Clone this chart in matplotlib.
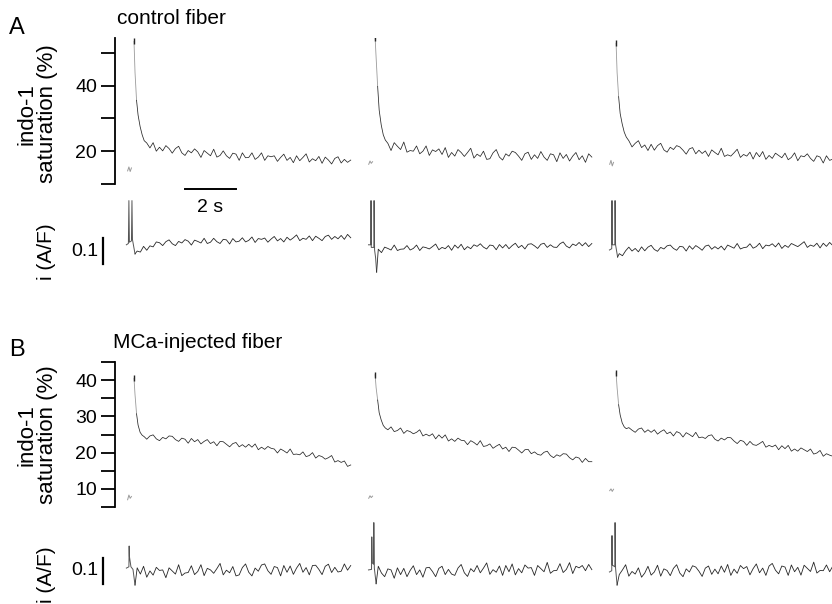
import numpy as np
import matplotlib
matplotlib.use("Agg")
import matplotlib.pyplot as plt
from matplotlib.transforms import blended_transform_factory

plt.rcParams['font.family'] = ['Liberation Sans', 'DejaVu Sans']

# ---------------- data ----------------
# sample times (s) relative to the stimulus
T_PRE = [-0.25, -0.2, -0.15, -0.1]
T_DECAY = [0.0, 0.04, 0.1, 0.16, 0.24, 0.32, 0.4]
T_REG = np.arange(0.5, 8.5001, 0.125)          # fluorescence plateau samples
T_I = np.arange(0.125, 8.5001, 0.125)          # current samples

# ---- panel A: control fiber, indo-1 saturation (%)
F_A1_pre = [14.0, 15.2, 13.8, 14.9]
F_A1_decay = [53.5, 44.0, 35.5, 31.0, 27.5, 25.0, 23.2]
F_A1_reg = [22.5, 21.0, 22.6, 20.0, 21.2, 20.1, 21.7, 20.8,
            19.4, 20.8, 21.5, 19.5, 18.7, 20.2, 19.5, 20.7,
            19.8, 18.1, 20.2, 19.4, 18.6, 20.6, 18.2, 18.7,
            20.1, 18.6, 17.8, 19.4, 19.1, 17.2, 19.5, 18.0,
            18.1, 19.5, 17.5, 18.2, 19.5, 17.2, 18.6, 18.3,
            18.6, 16.9, 18.1, 19.1, 17.2, 18.1, 16.5, 18.6,
            17.1, 18.1, 19.2, 16.7, 17.7, 17.1, 18.4, 16.3,
            18.2, 17.3, 16.1, 17.8, 18.3, 16.4, 17.5, 16.6,
            17.3]

F_A2_pre = [16.0, 17.0, 16.3, 16.8]
F_A2_decay = [54.6, 48.5, 39.7, 32.5, 28.0, 25.0, 23.4]
F_A2_reg = [22.4, 20.2, 22.6, 21.5, 20.5, 22.8, 19.7, 20.2,
            20.0, 21.6, 19.2, 20.0, 21.6, 18.7, 20.4, 19.9,
            20.7, 19.0, 21.1, 18.1, 19.6, 18.5, 20.5, 19.6,
            18.4, 19.6, 20.9, 17.9, 19.1, 18.4, 20.0, 17.5,
            17.7, 19.5, 20.5, 18.2, 17.3, 19.2, 18.5, 20.0,
            19.6, 18.5, 17.2, 19.2, 19.7, 17.5, 18.9, 17.8,
            19.9, 18.2, 17.2, 19.2, 18.9, 16.8, 19.5, 17.8,
            19.0, 17.0, 18.5, 19.6, 17.4, 18.6, 16.6, 19.2,
            18.2]

F_A3_pre = [16.0, 17.2, 15.5, 16.6]
F_A3_decay = [52.9, 44.0, 36.6, 31.5, 28.3, 25.8, 24.3]
F_A3_reg = [23.2, 21.3, 22.4, 23.2, 21.1, 21.9, 20.2, 22.1,
            20.3, 21.7, 22.4, 20.4, 19.7, 21.2, 20.5, 21.7,
            21.3, 20.3, 19.1, 20.7, 21.1, 19.2, 20.3, 19.3,
            20.1, 18.4, 20.4, 19.6, 18.9, 20.9, 18.4, 18.9,
            18.5, 19.5, 20.6, 18.1, 19.0, 18.5, 19.7, 17.6,
            19.6, 18.3, 19.9, 17.5, 18.7, 17.8, 19.4, 18.7,
            18.0, 19.4, 17.4, 18.1, 19.5, 17.1, 18.6, 18.3,
            19.2, 17.8, 16.9, 18.6, 18.2, 16.4, 18.6, 17.2,
            17.6]

# ---- panel A: currents i (A/F), relative to the post-pulse baseline
I_A1_on_t = [-0.3, -0.22, -0.2, -0.18, -0.1, -0.08, -0.06, 0.04]
I_A1_on_v = [0.02, 0.025, 0.19, 0.03, 0.035, 0.19, 0.04, -0.015]
I_A1 = [-0.004, -0.008, 0.014, -0.001, 0.016, 0.012, 0.031, 0.028,
        0.017, 0.032, 0.039, 0.024, 0.017, 0.033, 0.027, 0.040,
        0.034, 0.019, 0.038, 0.033, 0.027, 0.045, 0.025, 0.030,
        0.045, 0.032, 0.025, 0.041, 0.039, 0.023, 0.044, 0.031,
        0.034, 0.047, 0.031, 0.037, 0.050, 0.029, 0.044, 0.041,
        0.046, 0.030, 0.042, 0.052, 0.035, 0.044, 0.031, 0.049,
        0.038, 0.047, 0.058, 0.036, 0.045, 0.041, 0.054, 0.036,
        0.053, 0.045, 0.036, 0.052, 0.057, 0.041, 0.052, 0.043,
        0.056, 0.041, 0.060, 0.047]

I_A2_on_t = [-0.26, -0.17, -0.16, -0.15, -0.05, -0.04, -0.02, 0.02, 0.06]
I_A2_on_v = [0.02, 0.02, 0.19, 0.01, 0.01, 0.19, 0.0, -0.03, -0.085]
I_A2 = [0.003, -0.010, 0.011, 0.006, 0.000, 0.019, -0.002, 0.003,
        0.004, 0.017, 0.000, 0.006, 0.019, -0.002, 0.012, 0.009,
        0.004, 0.013, 0.023, 0.001, 0.010, 0.005, 0.017, -0.001,
        0.019, 0.007, 0.022, 0.001, 0.013, 0.005, 0.020, 0.014,
        0.024, 0.011, 0.004, 0.019, 0.017, 0.001, 0.021, 0.008,
        0.021, 0.005, 0.017, 0.026, 0.009, 0.018, 0.004, 0.022,
        0.024, 0.016, 0.006, 0.022, 0.026, 0.010, 0.020, 0.011,
        0.010, 0.024, 0.031, 0.015, 0.008, 0.023, 0.017, 0.029,
        0.016, 0.028, 0.013, 0.025]

I_A3_on_t = [-0.26, -0.17, -0.16, -0.15, -0.05, -0.04, -0.02, 0.06]
I_A3_on_v = [0.0, 0.005, 0.19, 0.02, 0.02, 0.19, 0.02, -0.027]
I_A3 = [-0.014, -0.022, -0.003, 0.011, -0.004, 0.006, -0.007, 0.012,
        -0.003, 0.011, 0.018, 0.002, -0.005, 0.010, 0.004, 0.016,
        0.019, 0.006, -0.001, 0.014, 0.012, -0.004, 0.016, 0.003,
        0.017, 0.009, -0.001, 0.015, 0.019, 0.003, 0.013, 0.004,
        0.015, 0.000, 0.019, 0.013, 0.007, 0.025, 0.004, 0.009,
        0.011, 0.024, 0.007, 0.013, 0.026, 0.005, 0.019, 0.016,
        0.024, 0.012, 0.027, 0.006, 0.018, 0.010, 0.025, 0.019,
        0.013, 0.022, 0.032, 0.010, 0.019, 0.014, 0.026, 0.008,
        0.026, 0.014, 0.029, 0.017]

# ---- panel B: MCa-injected fiber, indo-1 saturation (%)
F_B1_pre = [7.0, 8.3, 7.4, 7.9]
F_B1_decay = [40.5, 36.0, 30.7, 27.6, 25.6, 24.8, 24.4]
F_B1_reg = [23.7, 24.6, 24.9, 23.8, 23.3, 24.2, 23.8, 24.6,
            24.5, 23.6, 23.1, 24.0, 23.7, 22.6, 23.9, 23.0,
            23.6, 22.4, 23.1, 23.6, 22.5, 23.0, 21.9, 23.1,
            23.0, 22.3, 21.6, 22.5, 22.8, 21.6, 22.2, 21.5,
            22.3, 21.5, 22.4, 20.8, 21.5, 20.9, 21.7, 21.2,
            21.0, 19.9, 21.0, 20.5, 19.9, 21.0, 19.5, 19.6,
            19.4, 20.2, 18.9, 19.2, 20.0, 18.5, 19.2, 18.9,
            18.2, 18.6, 19.2, 17.4, 17.8, 17.3, 17.7, 16.2,
            16.6]

F_B2_pre = [7.4, 8.1, 7.6, 8.0]
F_B2_decay = [41.5, 37.9, 34.5, 31.0, 29.0, 27.5, 26.8]
F_B2_reg = [26.3, 27.1, 25.8, 26.1, 26.8, 25.3, 26.1, 25.8,
            25.2, 25.6, 26.3, 24.6, 25.1, 24.6, 25.2, 23.8,
            24.9, 24.0, 24.9, 23.2, 23.8, 23.1, 24.0, 23.4,
            23.3, 22.2, 23.3, 22.8, 22.1, 23.3, 21.7, 21.9,
            22.4, 21.2, 21.8, 22.3, 21.0, 21.5, 20.3, 21.5,
            21.4, 20.7, 19.9, 20.8, 20.9, 19.7, 20.2, 19.5,
            19.3, 20.1, 20.4, 19.2, 18.6, 19.4, 19.0, 19.7,
            19.6, 18.6, 18.0, 18.8, 18.5, 17.3, 18.4, 17.5,
            17.5]

F_B3_pre = [9.5, 10.0, 9.3, 9.9]
F_B3_decay = [42.0, 37.9, 33.2, 30.4, 28.2, 27.1, 26.6]
F_B3_reg = [26.9, 26.2, 25.6, 26.5, 26.8, 25.6, 26.3, 25.6,
            26.3, 25.1, 25.8, 26.3, 25.2, 25.7, 24.6, 25.8,
            25.4, 24.3, 25.5, 25.0, 24.4, 25.6, 24.1, 24.3,
            23.9, 24.7, 24.9, 23.7, 23.2, 24.0, 23.5, 24.2,
            24.1, 23.2, 22.5, 23.4, 23.1, 22.0, 23.1, 22.2,
            22.0, 22.5, 23.1, 21.5, 22.0, 21.6, 22.1, 20.8,
            21.9, 21.1, 22.0, 20.4, 21.0, 20.4, 21.3, 20.8,
            20.3, 21.0, 19.6, 19.9, 20.6, 19.0, 19.7, 19.3,
            19.0]

# ---- panel B: currents i (A/F)
I_B1_on_t = [-0.3, -0.2, -0.19, -0.18, -0.12, -0.04, 0.04]
I_B1_on_v = [0.015, 0.02, 0.10, 0.06, 0.02, 0.01, -0.05]
I_B1 = [0.016, -0.008, 0.022, -0.020, 0.004, -0.012, 0.018, 0.006,
        0.008, -0.022, 0.016, 0.004, -0.008, 0.028, -0.014, -0.004,
        -0.002, 0.024, -0.010, 0.002, 0.028, -0.014, 0.014, 0.008,
        -0.005, 0.013, 0.033, -0.011, 0.007, -0.003, 0.021, -0.015,
        -0.011, 0.017, 0.031, -0.001, -0.015, 0.015, 0.003, 0.027,
        0.031, 0.005, -0.009, 0.021, 0.017, -0.015, 0.025, -0.001,
        0.023, -0.009, 0.015, 0.033, -0.001, 0.017, -0.011, 0.025,
        0.026, 0.010, -0.010, 0.022, 0.030, -0.002, 0.018, 0.000,
        0.003, 0.031, 0.007, 0.025]

I_B2_on_t = [-0.26, -0.14, -0.13, -0.11, -0.06, -0.05, -0.03, 0.04]
I_B2_on_v = [0.008, 0.01, 0.135, 0.035, 0.03, 0.19, 0.015, -0.045]
I_B2 = [0.022, -0.004, -0.018, 0.012, 0.008, -0.024, 0.016, -0.010,
        0.014, -0.018, 0.006, 0.024, -0.010, 0.008, -0.020, 0.016,
        0.018, 0.002, -0.018, 0.014, 0.022, -0.010, 0.010, -0.008,
        -0.013, 0.015, 0.029, -0.003, -0.017, 0.013, 0.001, 0.025,
        -0.003, 0.015, 0.035, -0.009, 0.009, -0.001, 0.023, -0.013,
        0.025, 0.001, 0.031, -0.011, 0.013, -0.003, 0.027, 0.015,
        0.017, -0.013, 0.025, 0.013, 0.001, 0.037, -0.005, 0.005,
        0.006, 0.032, -0.002, 0.010, 0.036, -0.006, 0.022, 0.016,
        0.025, 0.005, 0.029, 0.009]

I_B3_on_t = [-0.26, -0.17, -0.16, -0.15, -0.05, -0.04, -0.02, 0.04]
I_B3_on_v = [0.0, 0.005, 0.14, 0.027, 0.02, 0.19, 0.015, -0.05]
I_B3 = [-0.010, 0.008, 0.028, -0.016, 0.002, -0.008, 0.016, -0.020,
        -0.004, 0.022, -0.012, 0.000, 0.026, -0.016, 0.012, 0.006,
        -0.014, 0.014, 0.028, -0.004, -0.018, 0.012, 0.000, 0.024,
        0.019, 0.003, -0.017, 0.015, 0.023, -0.009, 0.011, -0.007,
        0.023, -0.001, 0.029, -0.013, 0.011, -0.005, 0.025, 0.013,
        0.021, -0.011, 0.013, 0.031, -0.003, 0.015, -0.013, 0.023,
        0.033, 0.007, -0.007, 0.023, 0.019, -0.013, 0.027, 0.001,
        0.018, -0.012, 0.026, 0.014, 0.002, 0.038, -0.004, 0.006,
        0.005, 0.027, 0.001, 0.023]

F_A_TICKS = [10, 20, 30, 40, 50]
F_A_LABELS = ['', '20', '', '40', '']
F_B_TICKS = [5, 10, 15, 20, 25, 30, 35, 40, 45]
F_B_LABELS = ['', '10', '', '20', '', '30', '', '40', '']

# ---------------- layout ----------------
W, H = 832, 604
fig = plt.figure(figsize=(W / 100, H / 100), dpi=100)

PX_PER_S = 25.5
AX_LEFT = 115
STIM_X = [0.745, 10.2, 19.65]       # stimulus position of each trace (s along the row)
XLIM = (0, (W - AX_LEFT) / PX_PER_S)
I_PX_PER_UNIT = 260.0
TRACE = '#262626'
FAINT = '#9a9a9a'


def ax_px(left, top, right, bottom):
    return fig.add_axes([left / W, 1 - bottom / H, (right - left) / W, (bottom - top) / H])


def style_fluo(ax, ylim, ticks, labels):
    ax.set_xlim(*XLIM)
    ax.set_ylim(*ylim)
    for s in ('top', 'right', 'bottom'):
        ax.spines[s].set_visible(False)
    ax.spines['left'].set_linewidth(1.3)
    ax.set_xticks([])
    ax.set_yticks(ticks)
    ax.set_yticklabels(labels)
    ax.tick_params(axis='y', length=10, width=1.3, labelsize=14, pad=3)
    ax.patch.set_visible(False)


def style_curr(ax, top, bottom, zero):
    ax.set_xlim(*XLIM)
    ax.set_ylim(-(bottom - zero) / I_PX_PER_UNIT, (zero - top) / I_PX_PER_UNIT)
    ax.axis('off')


def draw_fluo(ax, traces):
    for x0, (pre, dec, reg) in zip(STIM_X, traces):
        ax.plot(np.array(T_PRE) + x0, pre, color=FAINT, lw=0.7)
        td = np.array(T_DECAY) + x0
        # the very fast initial fall is only faintly visible
        ax.plot(td[:3], dec[:3], color=FAINT, lw=0.6)
        ax.plot(td[:1], dec[:1], marker='|', ms=4, mew=1.0, color=TRACE, ls='none')
        t = np.concatenate([T_DECAY[2:], T_REG]) + x0
        v = np.concatenate([dec[2:], reg])
        ax.plot(t, v, color=TRACE, lw=0.55)


def draw_curr(ax, traces):
    for x0, (on_t, on_v, reg) in zip(STIM_X, traces):
        ax.plot(np.array(on_t) + x0, on_v, color='#555555', lw=0.7)
        t = np.concatenate([on_t[-1:], T_I]) + x0
        v = np.concatenate([on_v[-1:], reg])
        ax.plot(t, v, color=TRACE, lw=0.6)


# panel A
axFA = ax_px(AX_LEFT, 38, W, 184)
style_fluo(axFA, (10, 54.5), F_A_TICKS, F_A_LABELS)
draw_fluo(axFA, [(F_A1_pre, F_A1_decay, F_A1_reg),
                 (F_A2_pre, F_A2_decay, F_A2_reg),
                 (F_A3_pre, F_A3_decay, F_A3_reg)])

axIA = ax_px(AX_LEFT, 190, W, 310)
style_curr(axIA, 190, 310, 250)
draw_curr(axIA, [(I_A1_on_t, I_A1_on_v, I_A1),
                 (I_A2_on_t, I_A2_on_v, I_A2),
                 (I_A3_on_t, I_A3_on_v, I_A3)])

# panel B
axFB = ax_px(AX_LEFT, 362, W, 507)
style_fluo(axFB, (5, 45), F_B_TICKS, F_B_LABELS)
draw_fluo(axFB, [(F_B1_pre, F_B1_decay, F_B1_reg),
                 (F_B2_pre, F_B2_decay, F_B2_reg),
                 (F_B3_pre, F_B3_decay, F_B3_reg)])

axIB = ax_px(AX_LEFT, 512, W, 604)
style_curr(axIB, 512, 604, 572)
draw_curr(axIB, [(I_B1_on_t, I_B1_on_v, I_B1),
                 (I_B2_on_t, I_B2_on_v, I_B2),
                 (I_B3_on_t, I_B3_on_v, I_B3)])

# ---------------- scale bars ----------------
# 2 s time bar
trA = blended_transform_factory(axFA.transData, axFA.transAxes)
bar_x0 = (185 - AX_LEFT) / PX_PER_S
axFA.plot([bar_x0, bar_x0 + 2.0], [-0.034, -0.034], color='black', lw=1.4,
          transform=trA, clip_on=False)
axFA.text(bar_x0 + 1.0, -0.10, '2 s', transform=trA, ha='center', va='top', fontsize=14)

# 0.1 A/F current bars
bar_xf = (103 - AX_LEFT) / (W - AX_LEFT)
for ax, center in ((axIA, -0.005), (axIB, 0.005)):
    tr = blended_transform_factory(ax.transAxes, ax.transData)
    ax.plot([bar_xf, bar_xf], [center - 0.05, center + 0.05], color='black', lw=1.6,
            transform=tr, clip_on=False)
    ax.text(bar_xf - 0.007, center, '0.1', transform=tr, ha='right', va='center', fontsize=14)

# ---------------- texts ----------------
def ftext(x, y, s, **kw):
    fig.text(x / W, 1 - y / H, s, **kw)

ftext(9, 28, 'A', fontsize=17, ha='left', va='center')
ftext(117, 18, 'control fiber', fontsize=15, ha='left', va='center')
ftext(9, 350, 'B', fontsize=17, ha='left', va='center')
ftext(113, 342, 'MCa-injected fiber', fontsize=15, ha='left', va='center')

ftext(37, 114, 'indo-1\nsaturation (%)', fontsize=16, rotation=90, ha='center', va='center',
      multialignment='center', linespacing=1.0)
ftext(37, 435, 'indo-1\nsaturation (%)', fontsize=16, rotation=90, ha='center', va='center',
      multialignment='center', linespacing=1.0)
ftext(46, 252, 'i (A/F)', fontsize=15, rotation=90, ha='center', va='center')
ftext(46, 575, 'i (A/F)', fontsize=15, rotation=90, ha='center', va='center')

fig.savefig('out.png', dpi=100)
